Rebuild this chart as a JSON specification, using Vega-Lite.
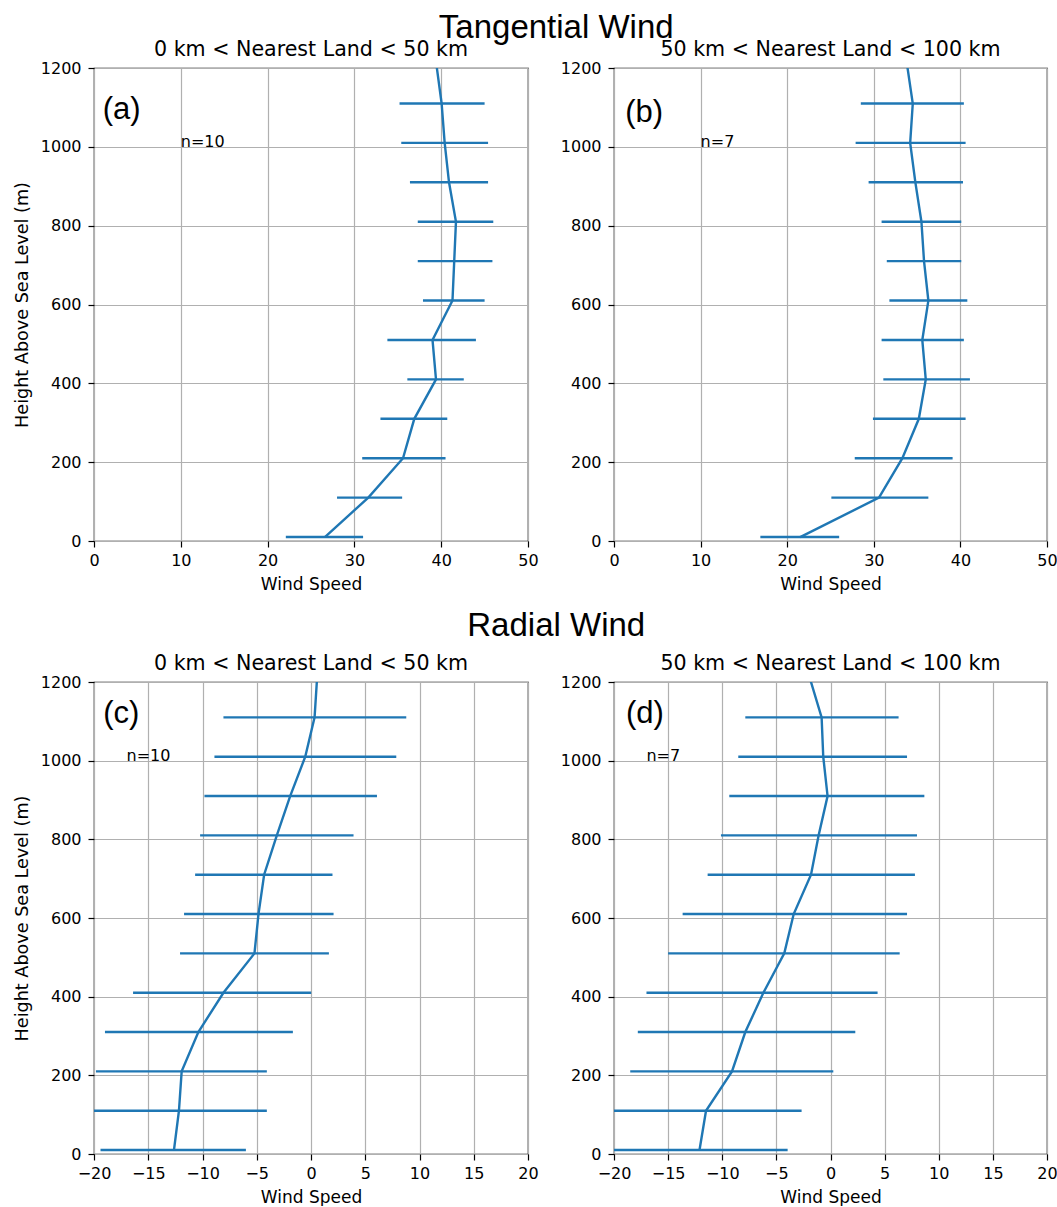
{
  "$schema": "https://vega.github.io/schema/vega-lite/v6.json",
  "background": "white",
  "padding": {"left": 12, "top": 11, "right": 0, "bottom": 0},
  "spacing": 16,
  "config": {
    "view": {"stroke": "black", "strokeWidth": 1.2},
    "axis": {"domain": false, "tickColor": "black", "tickSize": 6, "tickWidth": 1.2, "labelFont": "DejaVu Sans", "labelFontSize": 16, "labelColor": "black", "titleFont": "DejaVu Sans", "titleFontSize": 17, "titleFontWeight": "normal", "titleColor": "black", "gridColor": "#b0b0b0", "gridWidth": 1.2, "gridOpacity": 1, "labelPadding": 5, "labelFlush": false, "labelOverlap": false, "grid": true, "format": "d"},
    "axisX": {"titlePadding": 8},
    "axisY": {"titlePadding": 9, "labelPadding": 7, "titleFontSize": 17.6},
    "title": {"font": "DejaVu Sans", "fontSize": 20.6, "fontWeight": "normal", "color": "black", "offset": -1, "frame": "group"},
    "line": {"color": "#1f77b4", "strokeWidth": 2.4},
    "rule": {"color": "#1f77b4", "strokeWidth": 2.4}
  },
  "datasets": {
    "a": [
      {"h": 10, "m": 26.6, "lo": 22.1, "hi": 31.0},
      {"h": 110, "m": 31.6, "lo": 28.0, "hi": 35.5},
      {"h": 210, "m": 35.6, "lo": 30.9, "hi": 40.5},
      {"h": 310, "m": 36.9, "lo": 33.0, "hi": 40.7},
      {"h": 410, "m": 39.4, "lo": 36.1, "hi": 42.6},
      {"h": 510, "m": 39.0, "lo": 33.8, "hi": 44.0},
      {"h": 610, "m": 41.3, "lo": 37.9, "hi": 45.0},
      {"h": 710, "m": 41.5, "lo": 37.3, "hi": 45.9},
      {"h": 810, "m": 41.7, "lo": 37.3, "hi": 46.0},
      {"h": 910, "m": 40.9, "lo": 36.4, "hi": 45.4},
      {"h": 1010, "m": 40.4, "lo": 35.4, "hi": 45.4},
      {"h": 1110, "m": 40.05, "lo": 35.2, "hi": 45.0},
      {"h": 1210, "m": 39.44, "lo": null, "hi": null}
    ],
    "b": [
      {"h": 10, "m": 21.5, "lo": 16.9, "hi": 26.0},
      {"h": 110, "m": 30.6, "lo": 25.1, "hi": 36.3},
      {"h": 210, "m": 33.3, "lo": 27.8, "hi": 39.1},
      {"h": 310, "m": 35.2, "lo": 29.9, "hi": 40.6},
      {"h": 410, "m": 36.0, "lo": 31.1, "hi": 41.1},
      {"h": 510, "m": 35.6, "lo": 30.9, "hi": 40.4},
      {"h": 610, "m": 36.3, "lo": 31.8, "hi": 40.8},
      {"h": 710, "m": 35.8, "lo": 31.5, "hi": 40.1},
      {"h": 810, "m": 35.5, "lo": 30.9, "hi": 40.1},
      {"h": 910, "m": 34.8, "lo": 29.4, "hi": 40.3},
      {"h": 1010, "m": 34.2, "lo": 27.9, "hi": 40.6},
      {"h": 1110, "m": 34.5, "lo": 28.5, "hi": 40.4},
      {"h": 1210, "m": 33.83, "lo": null, "hi": null}
    ],
    "c": [
      {"h": 10, "m": -12.63, "lo": -19.4, "hi": -6.0},
      {"h": 110, "m": -12.17, "lo": -20.3, "hi": -4.07},
      {"h": 210, "m": -11.92, "lo": -19.82, "hi": -4.07},
      {"h": 310, "m": -10.38, "lo": -18.99, "hi": -1.67},
      {"h": 410, "m": -8.07, "lo": -16.4, "hi": 0.02},
      {"h": 510, "m": -5.21, "lo": -12.07, "hi": 1.65},
      {"h": 610, "m": -4.84, "lo": -11.7, "hi": 2.08},
      {"h": 710, "m": -4.32, "lo": -10.68, "hi": 1.98},
      {"h": 810, "m": -3.15, "lo": -10.22, "hi": 3.92},
      {"h": 910, "m": -1.92, "lo": -9.82, "hi": 6.08},
      {"h": 1010, "m": -0.53, "lo": -8.9, "hi": 7.86},
      {"h": 1110, "m": 0.33, "lo": -8.07, "hi": 8.78},
      {"h": 1210, "m": 0.56, "lo": null, "hi": null}
    ],
    "d": [
      {"h": 10, "m": -12.1, "lo": -20.2, "hi": -3.96},
      {"h": 110, "m": -11.5, "lo": -20.3, "hi": -2.67},
      {"h": 210, "m": -9.1, "lo": -18.5, "hi": 0.26},
      {"h": 310, "m": -7.87, "lo": -17.8, "hi": 2.29},
      {"h": 410, "m": -6.2, "lo": -17.0, "hi": 4.35},
      {"h": 510, "m": -4.27, "lo": -15.0, "hi": 6.39},
      {"h": 610, "m": -3.4, "lo": -13.66, "hi": 7.07},
      {"h": 710, "m": -1.8, "lo": -11.35, "hi": 7.8},
      {"h": 810, "m": -1.1, "lo": -10.12, "hi": 7.99},
      {"h": 910, "m": -0.27, "lo": -9.35, "hi": 8.67},
      {"h": 1010, "m": -0.67, "lo": -8.52, "hi": 7.07},
      {"h": 1110, "m": -0.82, "lo": -7.87, "hi": 6.29},
      {"h": 1210, "m": -1.91, "lo": null, "hi": null}
    ]
  },
  "vconcat": [
    {
      "title": {"text": "Tangential Wind", "font": "Liberation Sans", "fontSize": 33, "fontWeight": "normal", "anchor": "middle", "dx": 21, "offset": -5, "frame": "bounds"},
      "bounds": "flush",
      "spacing": 86,
      "hconcat": [
        {
          "width": 434, "height": 473,
          "title": "0 km < Nearest Land < 50 km",
          "data": {"name": "a"},
          "layer": [
            {
              "transform": [{"filter": "isValid(datum.lo)"}],
              "mark": {"type": "rule", "clip": true},
              "encoding": {
                "x": {"field": "lo", "type": "quantitative", "scale": {"domain": [0, 50], "nice": false}, "axis": {"values": [0, 10, 20, 30, 40, 50], "title": "Wind Speed"}},
                "x2": {"field": "hi"},
                "y": {"field": "h", "type": "quantitative", "scale": {"domain": [0, 1200], "nice": false}, "axis": {"values": [0, 200, 400, 600, 800, 1000, 1200], "title": "Height Above Sea Level (m)"}}
              }
            },
            {
              "mark": {"type": "line", "clip": true},
              "encoding": {
                "x": {"field": "m", "type": "quantitative"},
                "y": {"field": "h", "type": "quantitative"},
                "order": {"field": "h", "type": "quantitative"}
              }
            },
            {
              "data": {"values": [{}]},
              "mark": {"type": "text", "text": "(a)", "align": "left", "baseline": "alphabetic", "font": "Liberation Sans", "fontSize": 31},
              "encoding": {"x": {"datum": 1.0, "type": "quantitative"}, "y": {"datum": 1071, "type": "quantitative"}}
            },
            {
              "data": {"values": [{}]},
              "mark": {"type": "text", "text": "n=10", "align": "left", "baseline": "alphabetic", "font": "DejaVu Sans", "fontSize": 16},
              "encoding": {"x": {"datum": 10, "type": "quantitative"}, "y": {"datum": 1000, "type": "quantitative"}}
            }
          ]
        },
        {
          "width": 433, "height": 473,
          "title": "50 km < Nearest Land < 100 km",
          "data": {"name": "b"},
          "layer": [
            {
              "transform": [{"filter": "isValid(datum.lo)"}],
              "mark": {"type": "rule", "clip": true},
              "encoding": {
                "x": {"field": "lo", "type": "quantitative", "scale": {"domain": [0, 50], "nice": false}, "axis": {"values": [0, 10, 20, 30, 40, 50], "title": "Wind Speed"}},
                "x2": {"field": "hi"},
                "y": {"field": "h", "type": "quantitative", "scale": {"domain": [0, 1200], "nice": false}, "axis": {"values": [0, 200, 400, 600, 800, 1000, 1200], "title": null}}
              }
            },
            {
              "mark": {"type": "line", "clip": true},
              "encoding": {
                "x": {"field": "m", "type": "quantitative"},
                "y": {"field": "h", "type": "quantitative"},
                "order": {"field": "h", "type": "quantitative"}
              }
            },
            {
              "data": {"values": [{}]},
              "mark": {"type": "text", "text": "(b)", "align": "left", "baseline": "alphabetic", "font": "Liberation Sans", "fontSize": 31},
              "encoding": {"x": {"datum": 1.3, "type": "quantitative"}, "y": {"datum": 1063, "type": "quantitative"}}
            },
            {
              "data": {"values": [{}]},
              "mark": {"type": "text", "text": "n=7", "align": "left", "baseline": "alphabetic", "font": "DejaVu Sans", "fontSize": 16},
              "encoding": {"x": {"datum": 10, "type": "quantitative"}, "y": {"datum": 1000, "type": "quantitative"}}
            }
          ]
        }
      ]
    },
    {
      "title": {"text": "Radial Wind", "font": "Liberation Sans", "fontSize": 33, "fontWeight": "normal", "anchor": "middle", "dx": 21, "offset": 11, "frame": "bounds"},
      "bounds": "flush",
      "spacing": 86,
      "hconcat": [
        {
          "width": 434, "height": 472,
          "title": "0 km < Nearest Land < 50 km",
          "data": {"name": "c"},
          "layer": [
            {
              "transform": [{"filter": "isValid(datum.lo)"}],
              "mark": {"type": "rule", "clip": true},
              "encoding": {
                "x": {"field": "lo", "type": "quantitative", "scale": {"domain": [-20, 20], "nice": false}, "axis": {"values": [-20, -15, -10, -5, 0, 5, 10, 15, 20], "title": "Wind Speed"}},
                "x2": {"field": "hi"},
                "y": {"field": "h", "type": "quantitative", "scale": {"domain": [0, 1200], "nice": false}, "axis": {"values": [0, 200, 400, 600, 800, 1000, 1200], "title": "Height Above Sea Level (m)"}}
              }
            },
            {
              "mark": {"type": "line", "clip": true},
              "encoding": {
                "x": {"field": "m", "type": "quantitative"},
                "y": {"field": "h", "type": "quantitative"},
                "order": {"field": "h", "type": "quantitative"}
              }
            },
            {
              "data": {"values": [{}]},
              "mark": {"type": "text", "text": "(c)", "align": "left", "baseline": "alphabetic", "font": "Liberation Sans", "fontSize": 31},
              "encoding": {"x": {"datum": -19.15, "type": "quantitative"}, "y": {"datum": 1097, "type": "quantitative"}}
            },
            {
              "data": {"values": [{}]},
              "mark": {"type": "text", "text": "n=10", "align": "left", "baseline": "alphabetic", "font": "DejaVu Sans", "fontSize": 16},
              "encoding": {"x": {"datum": -17, "type": "quantitative"}, "y": {"datum": 1000, "type": "quantitative"}}
            }
          ]
        },
        {
          "width": 433, "height": 472,
          "title": "50 km < Nearest Land < 100 km",
          "data": {"name": "d"},
          "layer": [
            {
              "transform": [{"filter": "isValid(datum.lo)"}],
              "mark": {"type": "rule", "clip": true},
              "encoding": {
                "x": {"field": "lo", "type": "quantitative", "scale": {"domain": [-20, 20], "nice": false}, "axis": {"values": [-20, -15, -10, -5, 0, 5, 10, 15, 20], "title": "Wind Speed"}},
                "x2": {"field": "hi"},
                "y": {"field": "h", "type": "quantitative", "scale": {"domain": [0, 1200], "nice": false}, "axis": {"values": [0, 200, 400, 600, 800, 1000, 1200], "title": null}}
              }
            },
            {
              "mark": {"type": "line", "clip": true},
              "encoding": {
                "x": {"field": "m", "type": "quantitative"},
                "y": {"field": "h", "type": "quantitative"},
                "order": {"field": "h", "type": "quantitative"}
              }
            },
            {
              "data": {"values": [{}]},
              "mark": {"type": "text", "text": "(d)", "align": "left", "baseline": "alphabetic", "font": "Liberation Sans", "fontSize": 31},
              "encoding": {"x": {"datum": -18.9, "type": "quantitative"}, "y": {"datum": 1096, "type": "quantitative"}}
            },
            {
              "data": {"values": [{}]},
              "mark": {"type": "text", "text": "n=7", "align": "left", "baseline": "alphabetic", "font": "DejaVu Sans", "fontSize": 16},
              "encoding": {"x": {"datum": -17, "type": "quantitative"}, "y": {"datum": 1000, "type": "quantitative"}}
            }
          ]
        }
      ]
    }
  ]
}
